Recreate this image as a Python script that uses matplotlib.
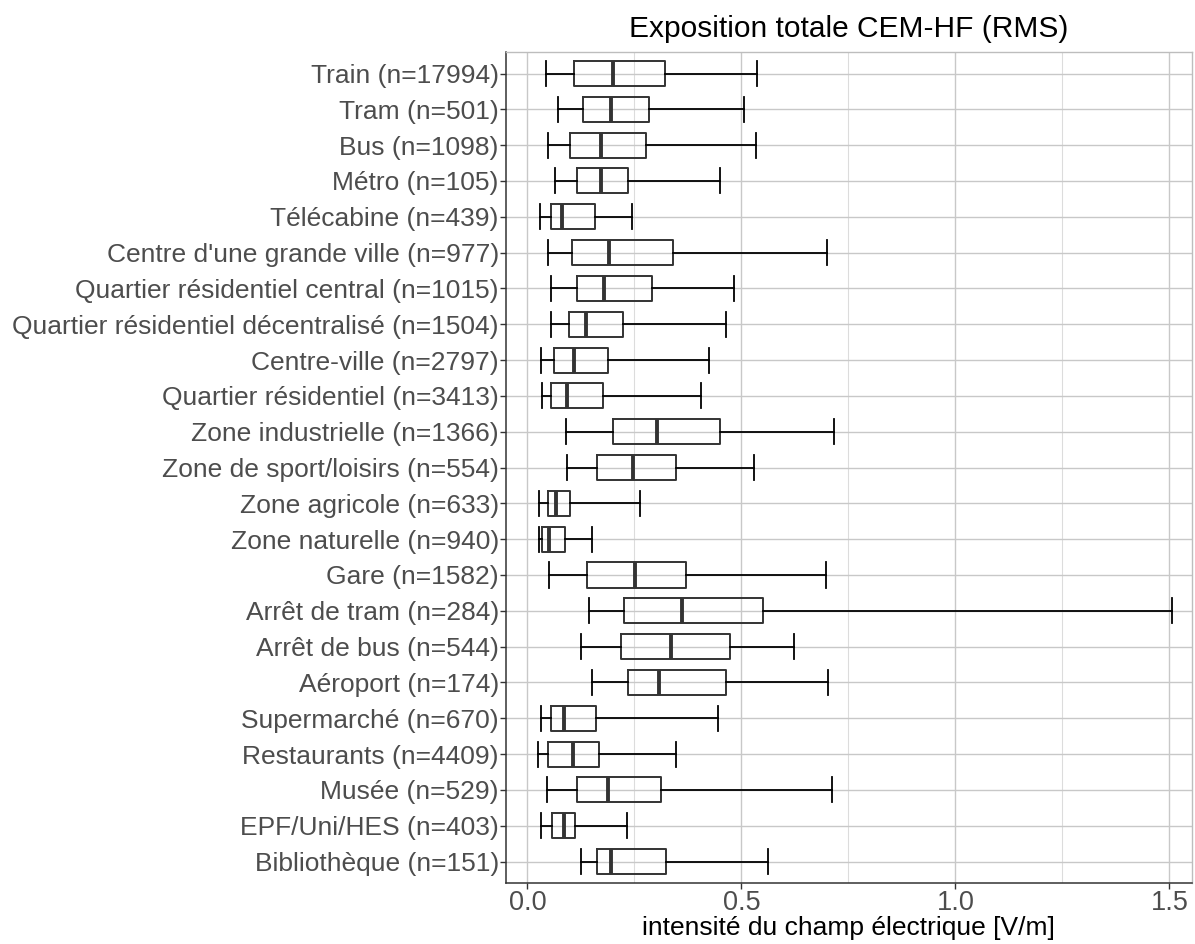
import matplotlib
matplotlib.use("Agg")
import matplotlib.pyplot as plt
from matplotlib.ticker import MultipleLocator

plt.rcParams['font.family'] = ['Liberation Sans', 'DejaVu Sans']

categories = [
    "Train (n=17994)", "Tram (n=501)", "Bus (n=1098)", "Métro (n=105)",
    "Télécabine (n=439)", "Centre d'une grande ville (n=977)",
    "Quartier résidentiel central (n=1015)",
    "Quartier résidentiel décentralisé (n=1504)", "Centre-ville (n=2797)",
    "Quartier résidentiel (n=3413)", "Zone industrielle (n=1366)",
    "Zone de sport/loisirs (n=554)", "Zone agricole (n=633)",
    "Zone naturelle (n=940)", "Gare (n=1582)", "Arrêt de tram (n=284)",
    "Arrêt de bus (n=544)", "Aéroport (n=174)", "Supermarché (n=670)",
    "Restaurants (n=4409)", "Musée (n=529)", "EPF/Uni/HES (n=403)",
    "Bibliothèque (n=151)",
]
whisker_low = [0.043, 0.072, 0.048, 0.065, 0.030, 0.048, 0.055, 0.055, 0.031,
               0.034, 0.090, 0.093, 0.027, 0.028, 0.050, 0.145, 0.125, 0.151,
               0.033, 0.024, 0.046, 0.031, 0.125]
q1 = [0.110, 0.129, 0.100, 0.115, 0.055, 0.104, 0.116, 0.098, 0.063,
      0.055, 0.199, 0.163, 0.048, 0.035, 0.139, 0.225, 0.220, 0.235,
      0.055, 0.048, 0.115, 0.058, 0.163]
median = [0.199, 0.195, 0.173, 0.171, 0.082, 0.191, 0.180, 0.136, 0.109,
          0.092, 0.302, 0.246, 0.067, 0.051, 0.252, 0.362, 0.336, 0.307,
          0.086, 0.106, 0.189, 0.086, 0.196]
q3 = [0.321, 0.284, 0.277, 0.235, 0.157, 0.340, 0.291, 0.223, 0.188,
      0.176, 0.449, 0.348, 0.099, 0.087, 0.370, 0.550, 0.474, 0.464,
      0.161, 0.168, 0.313, 0.112, 0.323]
whisker_high = [0.537, 0.507, 0.534, 0.449, 0.244, 0.700, 0.484, 0.465, 0.425,
                0.406, 0.716, 0.529, 0.263, 0.151, 0.698, 1.506, 0.624, 0.703,
                0.445, 0.348, 0.713, 0.232, 0.562]
x_ticks = [0.0, 0.5, 1.0, 1.5]

stats = []
for i, lab in enumerate(categories):
    stats.append(dict(label=lab, whislo=whisker_low[i], q1=q1[i], med=median[i],
                      q3=q3[i], whishi=whisker_high[i], fliers=[]))

fig = plt.figure(figsize=(11.95, 9.44), dpi=100)
ax = fig.add_axes([0.4232, 0.0646, 0.5743, 0.8803])

positions = list(range(1, len(categories) + 1))
ax.bxp(stats, positions=positions, vert=False, widths=0.7, showfliers=False,
       boxprops=dict(color='#333333', linewidth=1.4),
       medianprops=dict(color='#333333', linewidth=2.8),
       whiskerprops=dict(color='black', linewidth=1.3),
       capprops=dict(color='black', linewidth=1.3),
       capwidths=0.7, zorder=3)

ax.set_ylim(len(categories) + 0.6, 0.4)
ax.set_xlim(-0.0505, 1.553)
ax.set_xticks(x_ticks)
ax.set_xticklabels([f"{t:.1f}" for t in x_ticks])
ax.xaxis.set_minor_locator(MultipleLocator(0.25))
ax.grid(True, which='major', color='#c8c8c8', linewidth=1.0, zorder=0)
ax.grid(True, which='minor', axis='x', color='#dcdcdc', linewidth=0.8, zorder=0)
ax.set_axisbelow(True)

for side in ['top', 'right']:
    ax.spines[side].set_color('#bdbdbd')
    ax.spines[side].set_linewidth(1.0)
for side in ['left', 'bottom']:
    ax.spines[side].set_color('#333333')
    ax.spines[side].set_linewidth(1.1)

ax.tick_params(axis='y', which='major', labelsize=19, labelcolor='#4d4d4d',
               color='#333333', length=4, width=1.0, pad=1)
ax.tick_params(axis='x', which='major', labelsize=19.5, labelcolor='#4d4d4d',
               color='#333333', length=4, width=1.0, pad=1)
ax.tick_params(axis='x', which='minor', length=0)

ax.set_xlabel("intensité du champ électrique [V/m]", fontsize=19, color='black',
              labelpad=0)
ax.set_title("Exposition totale CEM-HF (RMS)", fontsize=21.5, color='black', pad=11)

fig.savefig("out.png", dpi=100)
